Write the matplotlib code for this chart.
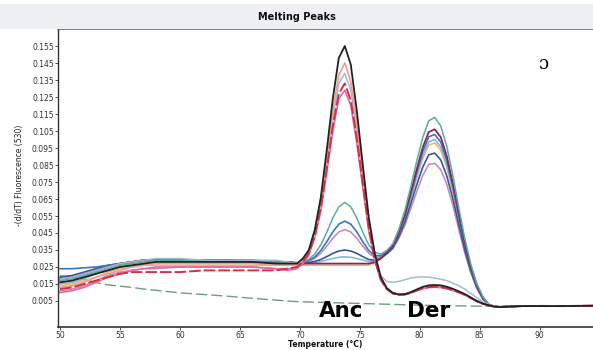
import matplotlib
matplotlib.use("Agg")
import matplotlib.pyplot as plt
from matplotlib.patches import Rectangle

# temperature grid (deg C), finer through the melting region
temps = [50, 51, 52, 53, 54, 55, 56, 57, 58, 60, 62, 64, 66, 68, 69,
         69.75, 70.25, 70.75, 71.25, 71.75, 72.25, 72.75, 73.25, 73.75, 74.25,
         74.75, 75.25, 75.75, 76.25, 76.75, 77.25, 77.75, 78.25, 78.75, 79.25,
         79.75, 80.25, 80.75, 81.25, 81.75, 82.25, 82.75, 83.25, 83.75, 84.25,
         84.75, 85.25, 85.75, 86.25, 86.75,
         87.5, 88.5, 90, 92, 94.5]

# ancestral-allele samples (peak near 74 C)
anc_black = [0.016, 0.017, 0.019, 0.021, 0.023, 0.025, 0.026, 0.027, 0.028, 0.028, 0.028, 0.028, 0.028, 0.027, 0.027,
             0.027, 0.030, 0.035, 0.047, 0.066, 0.094, 0.124, 0.148, 0.155, 0.144,
             0.117, 0.085, 0.054, 0.033, 0.019, 0.0126, 0.0097, 0.0088, 0.009, 0.0102,
             0.0118, 0.0133, 0.0142, 0.0144, 0.0142, 0.0134, 0.0122, 0.0107, 0.0091, 0.0071,
             0.0051, 0.0035, 0.0025, 0.0017, 0.0014,
             0.0017, 0.002, 0.002, 0.002, 0.0022]
anc_salmon = [0.013, 0.014, 0.016, 0.019, 0.021, 0.023, 0.025, 0.026, 0.027, 0.027, 0.027, 0.027, 0.027, 0.026, 0.026,
              0.027, 0.029, 0.035, 0.045, 0.063, 0.089, 0.117, 0.138, 0.145, 0.134,
              0.110, 0.080, 0.051, 0.031, 0.019, 0.012, 0.010, 0.009, 0.009, 0.010,
              0.0113, 0.0127, 0.0135, 0.0137, 0.0135, 0.0127, 0.0117, 0.0103, 0.0088, 0.0069,
              0.0049, 0.0034, 0.0024, 0.0017, 0.0015,
              0.0018, 0.002, 0.002, 0.0021, 0.0022]
anc_ltblue = [0.018, 0.019, 0.021, 0.023, 0.025, 0.027, 0.028, 0.029, 0.030, 0.030, 0.029, 0.029, 0.029, 0.029, 0.028,
              0.027, 0.029, 0.034, 0.044, 0.062, 0.086, 0.112, 0.133, 0.139, 0.129,
              0.105, 0.077, 0.050, 0.030, 0.020, 0.0165, 0.016, 0.0165, 0.0175, 0.0185,
              0.019, 0.0192, 0.019, 0.0185, 0.0178, 0.017, 0.0155, 0.014, 0.012, 0.0095,
              0.007, 0.0045, 0.003, 0.002, 0.0016,
              0.0018, 0.002, 0.002, 0.002, 0.0021]
anc_red = [0.012, 0.013, 0.015, 0.017, 0.019, 0.021, 0.022, 0.022, 0.022, 0.022, 0.023, 0.023, 0.023, 0.023, 0.024,
           0.025, 0.028, 0.033, 0.043, 0.060, 0.083, 0.108, 0.127, 0.133, 0.123,
           0.101, 0.074, 0.048, 0.029, 0.018, 0.012, 0.0095, 0.0088, 0.0088, 0.0098,
           0.0112, 0.0125, 0.0132, 0.0134, 0.0132, 0.0125, 0.0115, 0.0101, 0.0087, 0.0068,
           0.0049, 0.0034, 0.0024, 0.0018, 0.0015,
           0.0018, 0.002, 0.0021, 0.002, 0.0022]
anc_pink = [0.010, 0.011, 0.013, 0.016, 0.019, 0.021, 0.023, 0.024, 0.025, 0.025, 0.025, 0.025, 0.025, 0.024, 0.023,
            0.024, 0.027, 0.032, 0.043, 0.058, 0.081, 0.105, 0.124, 0.129, 0.120,
            0.098, 0.072, 0.046, 0.029, 0.017, 0.012, 0.0094, 0.0088, 0.0087, 0.0096,
            0.011, 0.0122, 0.0129, 0.0131, 0.0129, 0.0122, 0.0112, 0.0099, 0.0085, 0.0067,
            0.0048, 0.0034, 0.0024, 0.0018, 0.0015,
            0.0018, 0.002, 0.002, 0.0021, 0.0022]

# derived-allele samples (peak near 81 C)
der_teal = [0.017, 0.018, 0.020, 0.022, 0.024, 0.026, 0.027, 0.028, 0.029, 0.029, 0.029, 0.028, 0.028, 0.028, 0.027,
            0.0273, 0.028, 0.0295, 0.0327, 0.038, 0.0455, 0.0538, 0.0604, 0.063, 0.0604,
            0.0538, 0.0455, 0.038, 0.0336, 0.0326, 0.0347, 0.0386, 0.047, 0.058, 0.0722,
            0.0873, 0.1012, 0.111, 0.113, 0.108, 0.0962, 0.0793, 0.0602, 0.042, 0.0269,
            0.0153, 0.0077, 0.0031, 0.0017, 0.0015,
            0.0018, 0.002, 0.002, 0.002, 0.0021]
der_purple = [0.018, 0.019, 0.021, 0.023, 0.025, 0.027, 0.028, 0.029, 0.029, 0.029, 0.029, 0.029, 0.029, 0.028, 0.028,
              0.0275, 0.027, 0.027, 0.027, 0.027, 0.027, 0.027, 0.027, 0.027, 0.027,
              0.027, 0.027, 0.027, 0.0278, 0.030, 0.0333, 0.0376, 0.0456, 0.0558, 0.0689,
              0.0826, 0.0954, 0.1044, 0.106, 0.1014, 0.0904, 0.0746, 0.0569, 0.0398, 0.0256,
              0.0146, 0.0073, 0.003, 0.0016, 0.0015,
              0.0018, 0.002, 0.002, 0.0021, 0.0022]
der_blue = [0.024, 0.024, 0.0245, 0.025, 0.026, 0.027, 0.028, 0.029, 0.029, 0.029, 0.029, 0.029, 0.028, 0.028, 0.028,
            0.0272, 0.0277, 0.0288, 0.0309, 0.0347, 0.0399, 0.0456, 0.0502, 0.052, 0.0502,
            0.0456, 0.0399, 0.0347, 0.0317, 0.0317, 0.0338, 0.0375, 0.045, 0.0548, 0.0674,
            0.0806, 0.0929, 0.1015, 0.103, 0.0985, 0.0879, 0.0726, 0.0554, 0.0388, 0.025,
            0.0143, 0.0071, 0.0029, 0.0016, 0.0015,
            0.0018, 0.002, 0.002, 0.002, 0.0021]
der_ltblue = [0.015, 0.016, 0.018, 0.021, 0.023, 0.025, 0.026, 0.027, 0.028, 0.028, 0.028, 0.028, 0.028, 0.027, 0.027,
              0.027, 0.0271, 0.0273, 0.0276, 0.0282, 0.0291, 0.030, 0.0307, 0.031, 0.0307,
              0.030, 0.0291, 0.0282, 0.0284, 0.0301, 0.0331, 0.037, 0.0444, 0.0539, 0.066,
              0.0787, 0.0904, 0.0986, 0.100, 0.0956, 0.0854, 0.0707, 0.054, 0.0379, 0.0244,
              0.014, 0.007, 0.0028, 0.0016, 0.0015,
              0.0018, 0.002, 0.002, 0.002, 0.0022]
der_orange = [0.014, 0.015, 0.017, 0.019, 0.022, 0.024, 0.025, 0.026, 0.026, 0.026, 0.026, 0.026, 0.026, 0.026, 0.026,
              0.026, 0.026, 0.026, 0.026, 0.026, 0.026, 0.026, 0.026, 0.026, 0.026,
              0.026, 0.026, 0.026, 0.0277, 0.0298, 0.0329, 0.0367, 0.044, 0.0532, 0.065,
              0.0773, 0.0887, 0.0967, 0.098, 0.0937, 0.0837, 0.0693, 0.053, 0.0372, 0.024,
              0.0137, 0.0069, 0.0028, 0.0015, 0.0015,
              0.0018, 0.002, 0.002, 0.0021, 0.0022]
der_navy = [0.019, 0.020, 0.022, 0.024, 0.026, 0.027, 0.028, 0.029, 0.029, 0.029, 0.029, 0.029, 0.028, 0.028, 0.028,
            0.0271, 0.0272, 0.0276, 0.0283, 0.0294, 0.0311, 0.033, 0.0344, 0.035, 0.0344,
            0.033, 0.0311, 0.0294, 0.029, 0.0302, 0.0328, 0.0362, 0.0429, 0.0513, 0.0622,
            0.0734, 0.0837, 0.091, 0.092, 0.088, 0.0787, 0.0654, 0.0502, 0.0353, 0.0229,
            0.0131, 0.0066, 0.0026, 0.0015, 0.0015,
            0.0018, 0.002, 0.002, 0.002, 0.0021]
der_mauve = [0.011, 0.012, 0.014, 0.017, 0.020, 0.022, 0.023, 0.024, 0.024, 0.025, 0.025, 0.025, 0.025, 0.024, 0.024,
             0.025, 0.0265, 0.0284, 0.0301, 0.0331, 0.0373, 0.0419, 0.0456, 0.047, 0.0456,
             0.0419, 0.0373, 0.0331, 0.0307, 0.0309, 0.0327, 0.0357, 0.0417, 0.0494, 0.0593,
             0.0694, 0.0788, 0.0853, 0.086, 0.0823, 0.0738, 0.0614, 0.0473, 0.0334, 0.0217,
             0.0125, 0.0062, 0.0025, 0.0014, 0.0014,
             0.0018, 0.002, 0.002, 0.002, 0.0022]

# no-template control
ntc = [0.020, 0.019, 0.018, 0.0158, 0.0145, 0.0137, 0.013, 0.012, 0.0113, 0.0098, 0.0088, 0.0078, 0.0066, 0.0055, 0.005,
       0.0046, 0.0045, 0.0044, 0.0043, 0.0042, 0.0041, 0.004, 0.0039, 0.0038, 0.0037,
       0.0036, 0.0035, 0.0034, 0.0033, 0.0032, 0.0031, 0.003, 0.0029, 0.0028, 0.0027,
       0.0026, 0.0025, 0.0024, 0.0023, 0.0023, 0.0022, 0.0022, 0.0021, 0.0021, 0.002,
       0.002, 0.002, 0.0019, 0.0019, 0.0019,
       0.0019, 0.0019, 0.002, 0.002, 0.002]

x_ticks = [50, 55, 60, 65, 70, 75, 80, 85, 90]
y_ticks = [0.005, 0.015, 0.025, 0.035, 0.045, 0.055, 0.065, 0.075,
           0.085, 0.095, 0.105, 0.115, 0.125, 0.135, 0.145, 0.155]

fig = plt.figure(figsize=(5.93, 3.5), dpi=100)
fig.patch.set_facecolor("white")
# pale header strip behind the title
fig.patches.append(Rectangle((0.0, 0.918), 1.0, 0.07, transform=fig.transFigure,
                             facecolor="#eef0f4", edgecolor="none", zorder=0))
fig.text(0.5, 1 - 17 / 350, "Melting Peaks", ha="center", va="center",
         fontsize=7, fontweight="bold", color="#111111")

ax = fig.add_axes([58 / 593, 23 / 350, 535 / 593, 299 / 350])

line_kw = dict(solid_joinstyle="round", dash_joinstyle="round")
ax.plot(temps, ntc, color="#6f9c80", lw=1.0, dashes=[8, 3], **line_kw)
ax.plot(temps, der_orange, color="#f2b466", lw=1.1, **line_kw)
ax.plot(temps, der_mauve, color="#c784b4", lw=1.1, **line_kw)
ax.plot(temps, der_ltblue, color="#79b6e2", lw=1.1, **line_kw)
ax.plot(temps, der_navy, color="#34579c", lw=1.2, **line_kw)
ax.plot(temps, der_blue, color="#3a74c4", lw=1.2, **line_kw)
ax.plot(temps, der_purple, color="#8c2456", lw=1.3, **line_kw)
ax.plot(temps, der_teal, color="#5aae9c", lw=1.1, **line_kw)
ax.plot(temps, anc_pink, color="#e466a8", lw=1.2, **line_kw)
ax.plot(temps, anc_ltblue, color="#a2bcd6", lw=1.1, **line_kw)
ax.plot(temps, anc_salmon, color="#f29c8c", lw=1.2, **line_kw)
ax.plot(temps, anc_red, color="#d23244", lw=1.4, dashes=[6, 1.5], **line_kw)
ax.plot(temps, anc_black, color="#222222", lw=1.3, **line_kw)

ax.set_xlim(49.83, 94.45)
ax.set_ylim(-0.0103, 0.1656)
ax.set_xticks(x_ticks)
ax.set_yticks(y_ticks)
ax.set_yticklabels(["%.3f" % v for v in y_ticks])
ax.tick_params(labelsize=5.5, colors="#333333", length=2, width=0.6, pad=1)

ax.spines["right"].set_visible(False)
ax.spines["top"].set_linewidth(1.8)
ax.spines["top"].set_color("#555555")
ax.spines["left"].set_color("#333333")
ax.spines["bottom"].set_color("#333333")
ax.spines["left"].set_linewidth(1.0)
ax.spines["bottom"].set_linewidth(1.2)

fig.text(325 / 593, 1 - 344.5 / 350, "Temperature (\u00b0C)", ha="center", va="center",
         fontsize=5.5, fontweight="bold", color="#111111")
fig.text(20 / 593, 1 - 175 / 350, "-(d/dT) Fluorescence (530)", rotation=90,
         ha="center", va="center", fontsize=5.5, color="#222222")

ax.text(71.58, -0.0044, "Anc", fontsize=15.5, fontweight="bold", color="black",
        ha="left", va="baseline")
ax.text(78.92, -0.0044, "Der", fontsize=15.5, fontweight="bold", color="black",
        ha="left", va="baseline")
ax.text(90.33, 0.1444, "\u0254", fontsize=13, family="DejaVu Serif", color="black",
        ha="center", va="center")

fig.savefig("out.png", dpi=100)
